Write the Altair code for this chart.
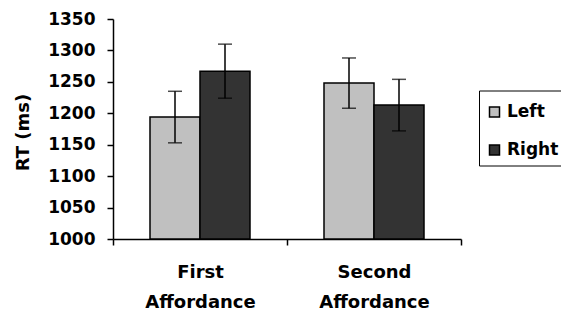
import altair as alt
import pandas as pd

groups = ["First Affordance", "Second Affordance"]
series = ["Left", "Right"]
means = [1194, 1267, 1248, 1213]
errors = [41, 43, 40, 41]
colors = ["#C0C0C0", "#333333"]
y_ticks = [1000, 1050, 1100, 1150, 1200, 1250, 1300, 1350]
y_base = 1000

rows = []
i = 0
for g in groups:
    for s in series:
        rows.append({"group": g, "side": s, "rt": means[i],
                     "lo": means[i] - errors[i], "hi": means[i] + errors[i]})
        i += 1
df = pd.DataFrame(rows)

FONT = "DejaVu Sans"

x_scale = alt.Scale(paddingInner=0, paddingOuter=0)
x_axis = alt.Axis(tickBand="extent", labelAngle=0,
                  labelExpr="split(datum.label, ' ')",
                  labelFontSize=18, labelLineHeight=30, labelPadding=18)
x_enc = alt.X("group:N", sort=groups, title=None, scale=x_scale, axis=x_axis)
xo_enc = alt.XOffset("side:N", sort=series,
                     scale=alt.Scale(paddingOuter=0.74, paddingInner=0))
y_scale = alt.Scale(domain=[1000, 1350], nice=False, zero=False)
y_axis = alt.Axis(values=y_ticks, grid=False, format="d",
                  labelOverlap=False, labelFlush=False,
                  labelFontSize=17, labelPadding=12,
                  titleFontSize=18, titleAngle=270, titleAlign="center",
                  titleBaseline="middle", titleX=-90, titleY=113)


def yq(field):
    return alt.Y(field, scale=y_scale, title="RT (ms)", axis=y_axis)


bars = alt.Chart(df).mark_bar(stroke="black", strokeWidth=1.5).encode(
    x=x_enc,
    xOffset=xo_enc,
    y=yq("rt:Q"),
    y2=alt.datum(y_base),
    color=alt.Color("side:N", sort=series,
                    scale=alt.Scale(domain=series, range=colors),
                    legend=alt.Legend(title=" ", titleFontSize=6,
                                      titlePadding=0,
                                      orient="none",
                                      legendX=366, legendY=71.5,
                                      strokeColor="black", padding=7,
                                      symbolType="square", symbolSize=100,
                                      symbolStrokeColor="black",
                                      symbolStrokeWidth=1.5,
                                      labelFont=FONT, labelFontWeight="bold",
                                      labelFontSize=17, labelColor="black",
                                      labelOffset=4, rowPadding=20)),
)

rules = alt.Chart(df).mark_rule(color="black", strokeWidth=1.5).encode(
    x=x_enc, xOffset=xo_enc, y=yq("lo:Q"), y2="hi:Q")

cap_hi = alt.Chart(df).mark_tick(color="black", size=14, thickness=1.5,
                                 orient="horizontal").encode(
    x=x_enc, xOffset=xo_enc, y=yq("hi:Q"))
cap_lo = alt.Chart(df).mark_tick(color="black", size=14, thickness=1.5,
                                 orient="horizontal").encode(
    x=x_enc, xOffset=xo_enc, y=yq("lo:Q"))

chart = alt.layer(bars, rules, cap_hi, cap_lo).properties(
    width=348, height=220,
    background="white",
    autosize=alt.AutoSizeParams(type="none"),
    padding={"left": 105, "top": 11, "right": 100, "bottom": 75},
).configure_view(stroke=None).configure_axis(
    labelFont=FONT, labelFontWeight="bold", labelColor="black",
    titleFont=FONT, titleFontWeight="bold", titleColor="black",
    tickSize=6, tickColor="black", tickWidth=1.5,
    domainColor="black", domainWidth=1.5,
)

chart.save("out.html", embed_options={"renderer": "svg", "actions": False})
